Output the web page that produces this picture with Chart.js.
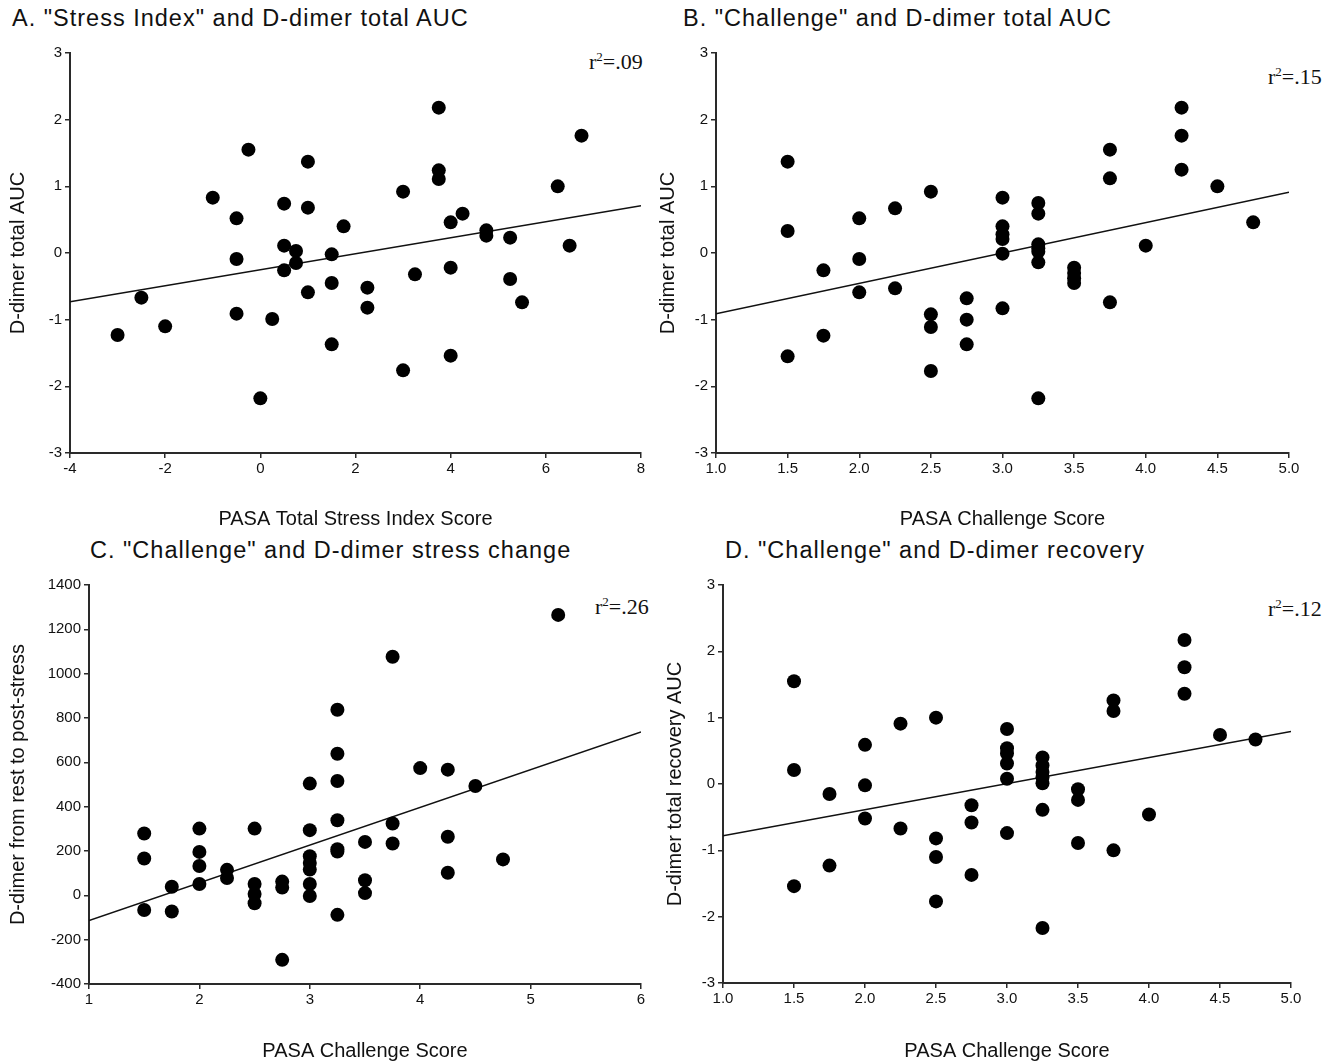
<!DOCTYPE html>
<html>
<head>
<meta charset="utf-8">
<script src="https://cdn.jsdelivr.net/npm/chart.js@4.4.0/dist/chart.umd.min.js"></script>
<style>
  body { margin: 0; background: #fff; width: 1338px; height: 1064px; position: relative; overflow: hidden; }
  canvas { position: absolute; }
  .ptitle { position: absolute; font: 23.5px "Liberation Sans", Arial, sans-serif; letter-spacing: 1px; line-height: 26px; color: #111; white-space: nowrap; }
  .r2 { position: absolute; font: 22px "Liberation Serif", "Times New Roman", serif; line-height: 22px; color: #111; white-space: nowrap; }
  .r2 sup { font-size: 13px; vertical-align: 8px; line-height: 0; }
</style>
</head>
<body>
<div class="ptitle" style="left:12px;top:5px">A. "Stress Index" and D-dimer total AUC</div>
<div class="ptitle" style="left:683px;top:5px">B. "Challenge" and D-dimer total AUC</div>
<div class="ptitle" style="left:90px;top:537px">C. "Challenge" and D-dimer stress change</div>
<div class="ptitle" style="left:725px;top:537px">D. "Challenge" and D-dimer recovery</div>
<div class="r2" style="left:589px;top:51px">r<sup>2</sup>=.09</div>
<div class="r2" style="left:1268px;top:66px">r<sup>2</sup>=.15</div>
<div class="r2" style="left:595px;top:596px">r<sup>2</sup>=.26</div>
<div class="r2" style="left:1268px;top:598px">r<sup>2</sup>=.12</div>

<canvas id="chartA" width="655" height="532" style="left:0;top:0"></canvas>
<canvas id="chartB" width="683" height="532" style="left:655px;top:0"></canvas>
<canvas id="chartC" width="655" height="532" style="left:0;top:532px"></canvas>
<canvas id="chartD" width="683" height="532" style="left:655px;top:532px"></canvas>

<script>
// A: stress index score vs D-dimer total AUC
const stressA = [-3, -2.5, -2, -1, -0.5, -0.5, -0.5, -0.25, 0, 0.25, 0.5, 0.5, 0.5, 0.75, 0.75, 1, 1, 1, 1.5, 1.5, 1.5, 1.75, 2.25, 2.25, 3, 3, 3.25, 3.75, 3.75, 3.75, 4, 4, 4, 4.25, 4.75, 4.75, 5.25, 5.25, 5.5, 6.25, 6.5, 6.75]
const aucA = [-1.23, -0.67, -1.1, 0.83, 0.52, -0.09, -0.91, 1.55, -2.18, -0.99, 0.74, 0.11, -0.26, 0.03, -0.15, 1.37, 0.68, -0.59, -0.02, -0.45, -1.37, 0.4, -0.52, -0.82, 0.92, -1.76, -0.32, 2.18, 1.24, 1.11, 0.46, -0.22, -1.54, 0.59, 0.34, 0.26, 0.23, -0.39, -0.74, 1.0, 0.11, 1.76]
const fitA = [[-4, -0.73], [8, 0.71]]

// B: challenge score vs D-dimer total AUC
const challengeB = [1.5, 1.5, 1.5, 1.75, 1.75, 2, 2, 2, 2.25, 2.25, 2.5, 2.5, 2.5, 2.5, 2.75, 2.75, 2.75, 3, 3, 3, 3, 3, 3, 3.25, 3.25, 3.25, 3.25, 3.25, 3.25, 3.25, 3.5, 3.5, 3.5, 3.5, 3.75, 3.75, 3.75, 4, 4.25, 4.25, 4.25, 4.5, 4.75]
const aucB = [1.37, 0.33, -1.55, -0.26, -1.24, 0.52, -0.09, -0.59, 0.67, -0.53, 0.92, -0.92, -1.11, -1.77, -0.68, -1.0, -1.37, 0.83, 0.4, 0.28, 0.21, -0.01, -0.83, 0.75, 0.59, 0.13, 0.07, 0.02, -0.14, -2.18, -0.22, -0.3, -0.38, -0.45, 1.55, 1.12, -0.74, 0.11, 2.18, 1.76, 1.25, 1.0, 0.46]
const fitB = [[1, -0.91], [5, 0.91]]

// C: challenge score vs D-dimer change rest -> post-stress
const challengeC = [1.5, 1.5, 1.5, 1.75, 1.75, 2, 2, 2, 2, 2.25, 2.25, 2.5, 2.5, 2.5, 2.5, 2.75, 2.75, 2.75, 3, 3, 3, 3, 3, 3, 3, 3.25, 3.25, 3.25, 3.25, 3.25, 3.25, 3.25, 3.5, 3.5, 3.5, 3.75, 3.75, 3.75, 4, 4.25, 4.25, 4.25, 4.5, 4.75, 5.25]
const changeC = [279, 166, -66, 39, -73, 301, 196, 132, 51, 115, 78, 301, 51, 6, -36, 62, 35, -291, 504, 294, 176, 146, 116, 51, -3, 837, 639, 516, 339, 208, 198, -88, 241, 68, 10, 1076, 324, 234, 574, 567, 264, 102, 493, 162, 1265]
const fitC = [[1, -114], [6, 737]]

// D: challenge score vs D-dimer recovery AUC
const challengeD = [1.5, 1.5, 1.5, 1.75, 1.75, 2, 2, 2, 2.25, 2.25, 2.5, 2.5, 2.5, 2.5, 2.75, 2.75, 2.75, 3, 3, 3, 3, 3, 3, 3.25, 3.25, 3.25, 3.25, 3.25, 3.25, 3.25, 3.5, 3.5, 3.5, 3.75, 3.75, 3.75, 4, 4.25, 4.25, 4.25, 4.5, 4.75]
const recoveryD = [1.55, 0.21, -1.54, -0.15, -1.23, 0.59, -0.02, -0.52, 0.91, -0.67, 1.0, -0.82, -1.1, -1.77, -0.32, -0.58, -1.37, 0.83, 0.54, 0.46, 0.31, 0.08, -0.74, 0.4, 0.28, 0.18, 0.1, 0.01, -0.39, -2.17, -0.08, -0.24, -0.89, 1.26, 1.1, -1.0, -0.46, 2.17, 1.76, 1.36, 0.74, 0.67]
const fitD = [[1, -0.78], [5, 0.79]]

// tick values
const ticksStress = [-4, -2, 0, 2, 4, 6, 8]
const ticksChallenge = [1.0, 1.5, 2.0, 2.5, 3.0, 3.5, 4.0, 4.5, 5.0]
const ticksChallengeC = [1, 2, 3, 4, 5, 6]
const ticksAuc = [-3, -2, -1, 0, 1, 2, 3]
const ticksChange = [-400, -200, 0, 200, 400, 600, 800, 1000, 1200, 1400]

const axisColor = '#2a2a2a'
const tickFont = { family: '"Liberation Sans Narrow", "Liberation Sans", Arial', size: 15 }
const titleFont = { family: '"Liberation Sans", Arial', size: 20 }

function makeAxis(cfg) {
    return {
        type: 'linear',
        min: cfg.ticks[0],
        max: cfg.ticks[cfg.ticks.length - 1],
        afterBuildTicks: s => { s.ticks = cfg.ticks.map(v => ({ value: v })) },
        afterFit: s => {
            if (cfg.pos === 'x') s.height = cfg.size
            else s.width = cfg.size
        },
        grid: { display: true, drawOnChartArea: false, drawTicks: true, tickLength: 5, color: axisColor, lineWidth: 1.5 },
        border: { display: true, color: axisColor, width: 2 },
        ticks: {
            color: '#111',
            font: tickFont,
            padding: cfg.pos === 'x' ? 2 : 3,
            maxRotation: 0,
            autoSkip: false,
            callback: v => cfg.fixed ? v.toFixed(1) : String(v)
        },
        title: { display: true, text: cfg.title, color: '#111', font: titleFont, padding: 0 }
    }
}

function buildChart(id, xs, ys, fit, opts) {
    const points = xs.map((x, i) => ({ x: x, y: ys[i] }))
    const line = fit.map(p => ({ x: p[0], y: p[1] }))
    new Chart(document.getElementById(id), {
        type: 'scatter',
        data: {
            datasets: [
                { data: points, backgroundColor: '#000', borderColor: '#000', pointRadius: 7, pointHoverRadius: 7, borderWidth: 0 },
                { data: line, showLine: true, borderColor: '#111', borderWidth: 1.5, pointRadius: 0, fill: false }
            ]
        },
        options: {
            responsive: false,
            animation: false,
            layout: { padding: opts.padding },
            plugins: { legend: { display: false }, tooltip: { enabled: false } },
            scales: {
                x: makeAxis({ pos: 'x', ticks: opts.xTicks, size: opts.xSize, title: opts.xTitle, fixed: opts.fixed }),
                y: makeAxis({ pos: 'y', ticks: opts.yTicks, size: opts.ySize, title: opts.yTitle })
            }
        }
    })
}

buildChart('chartA', stressA, aucA, fitA, {
    padding: { top: 53, left: 6, right: 14, bottom: 1 },
    xTicks: ticksStress, yTicks: ticksAuc, xSize: 78, ySize: 64,
    xTitle: 'PASA Total Stress Index Score', yTitle: 'D-dimer total AUC'
})
buildChart('chartB', challengeB, aucB, fitB, {
    padding: { top: 53, left: 1, right: 49, bottom: 1 },
    xTicks: ticksChallenge, yTicks: ticksAuc, xSize: 78, ySize: 60, fixed: true,
    xTitle: 'PASA Challenge Score', yTitle: 'D-dimer total AUC'
})
buildChart('chartC', challengeC, changeC, fitC, {
    padding: { top: 53, left: 6, right: 14, bottom: 1 },
    xTicks: ticksChallengeC, yTicks: ticksChange, xSize: 79, ySize: 83,
    xTitle: 'PASA Challenge Score', yTitle: 'D-dimer from rest to post-stress'
})
buildChart('chartD', challengeD, recoveryD, fitD, {
    padding: { top: 53, left: 8, right: 47, bottom: 1 },
    xTicks: ticksChallenge, yTicks: ticksAuc, xSize: 80, ySize: 60, fixed: true,
    xTitle: 'PASA Challenge Score', yTitle: 'D-dimer total recovery AUC'
})
</script>
</body>
</html>
